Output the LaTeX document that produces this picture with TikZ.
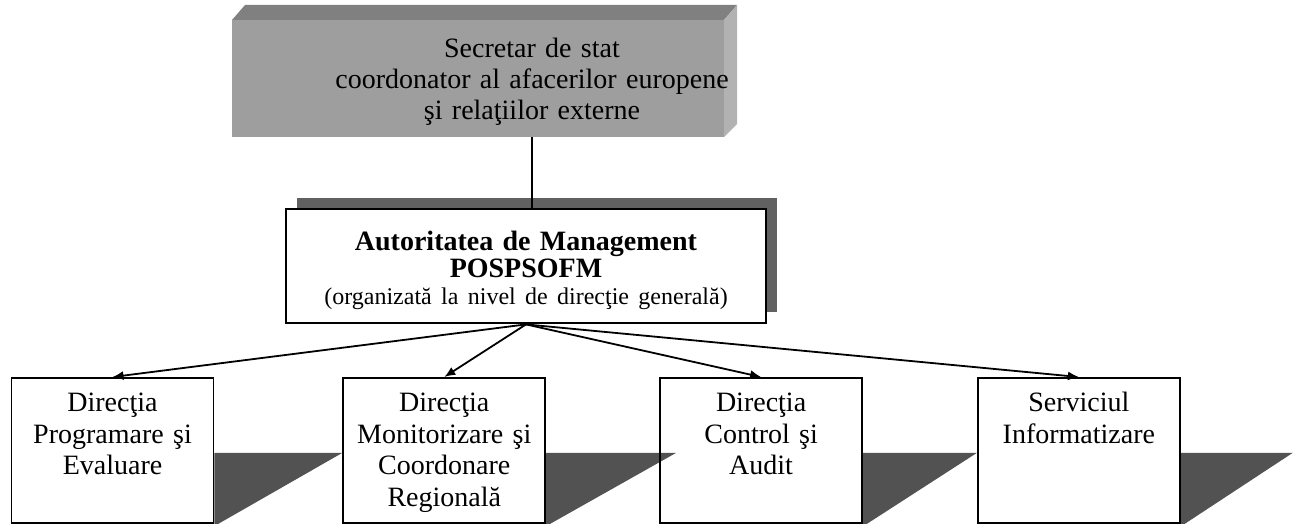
\documentclass[tikz,border=0pt]{standalone}
\usepackage{fontspec}
\setmainfont{Liberation Serif}
\usetikzlibrary{positioning}
\usetikzlibrary{calc}
\usetikzlibrary{arrows.meta}
\usetikzlibrary{shadows}
\usetikzlibrary{backgrounds}

\tikzset{
	dirbox/.style={draw, rectangle, line width=0.9pt, inner xsep=0pt, inner ysep=0pt, text width=101pt, align=center, text height=17pt, text depth=55.5pt, font=\fontsize{14}{15.75}\selectfont},
	dropshade/.style={fill=black!68},
}

\begin{document}
\begin{tikzpicture}[x=0.5pt, y=-0.5pt, >={Latex[length=5.5pt,width=4.5pt]}]
			\useasboundingbox (0,0) rectangle (1295,524);

			% secretar de stat, 3-D block
			\fill[black!50] (232,20) -- (245,5) -- (737,5) -- (724,20) -- cycle;
			\fill[black!30] (724,20) -- (737,5) -- (737,124) -- (724,137) -- cycle;
			\node[rectangle, fill=black!38, minimum width=246pt, minimum height=58.5pt, inner sep=0pt] (sec) at (478,78.5) {};
			\node[anchor=base, text width=220pt, align=center, font=\fontsize{14}{15.5}\selectfont] (sectxt) at (532,58) {Secretar de stat\\ coordonator al afacerilor europene\\ şi relaţiilor externe};

			\node[draw, rectangle, line width=1.2pt, fill=white, inner xsep=0pt, inner ysep=0pt, text width=240pt, align=center, text height=20.5pt, text depth=36.5pt, font=\fontsize{14}{13.5}\selectfont, drop shadow={shadow xshift=5.5pt, shadow yshift=5.5pt, fill=black!62, opacity=1}, anchor=north] (aut) at (526,208) {\textbf{Autoritatea de Management}\\ \textbf{POSPSOFM}\\ {\fontsize{12}{13.5}\selectfont (organizată la nivel de direcţie generală)}};

			\draw[line width=0.6pt] (sec.south -| sectxt) -- (aut.north -| sectxt);

			\node[dirbox, anchor=north] (prog) at (112.5,377) {Direcţia\\ Programare şi\\ Evaluare};
			\node[dirbox, right=64pt of prog] (mon) {Direcţia\\ Monitorizare şi\\ Coordonare\\ Regională};
			\node[dirbox, right=56.5pt of mon] (ctrl) {Direcţia\\ Control şi\\ Audit};
			\node[dirbox, right=57pt of ctrl] (info) {Serviciul\\ Informatizare};

			\draw[->, line width=0.9pt] (aut.south) -- (prog.north);
			\draw[->, line width=0.9pt] (aut.south) -- (mon.north);
			\draw[->, line width=0.9pt] (aut.south) -- (ctrl.north);
			\draw[->, line width=0.9pt] (aut.south) -- (info.north);

			% shadows under the boxes
			\begin{scope}[on background layer]
				\fill[dropshade] ($(prog.south east)+(0,-71)$) -- ($(mon.south west)+(0,-71)$) -- ($(prog.south east)+(4,0)$) -- (prog.south east) -- cycle;
				\fill[dropshade] ($(mon.south east)+(0,-71)$) -- ($(ctrl.south west)+(17,-71)$) -- ($(mon.south east)+(4,0)$) -- (mon.south east) -- cycle;
				\fill[dropshade] ($(ctrl.south east)+(0,-71)$) -- ($(info.south west)+(0,-71)$) -- ($(ctrl.south east)+(4,0)$) -- (ctrl.south east) -- cycle;
				\fill[dropshade] ($(info.south east)+(0,-71)$) -- ($(info.south east)+(112,-71)$) -- ($(info.south east)+(4,0)$) -- (info.south east) -- cycle;
			\end{scope}
		\end{tikzpicture}
\end{document}
